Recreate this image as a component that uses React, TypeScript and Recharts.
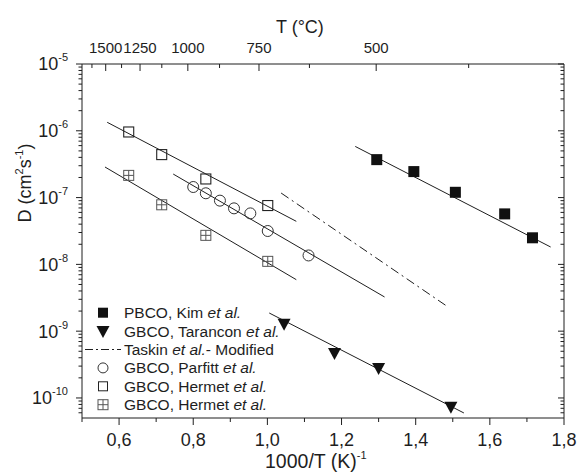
import React from "react";
import { ComposedChart, Scatter, XAxis, YAxis } from "recharts";

const X_TICKS = [0.5, 0.6, 0.7, 0.8, 0.9, 1.0, 1.1, 1.2, 1.3, 1.4, 1.5, 1.6, 1.7, 1.8];
const X_LABELED = [0.6, 0.8, 1.0, 1.2, 1.4, 1.6, 1.8];
const T_MAJOR = [1500, 1250, 1000, 750, 500];
const T_MINOR = [1625, 1375, 1125, 875, 625, 375];
const DECADES = [-11, -10, -9, -8, -7, -6, -5];
const Y_MIN = Math.pow(10, -10.3);
const Y_MAX = 1e-5;

// PBCO, Kim et al.
const kimX = [1.295, 1.395, 1.507, 1.64, 1.715];
const kimD = [3.7e-7, 2.45e-7, 1.2e-7, 5.7e-8, 2.5e-8];
const kimFitX = [1.237, 1.764];
const kimFitD = [5.83e-7, 1.82e-8];

// GBCO, Tarancon et al.
const taranconX = [1.045, 1.181, 1.3, 1.495];
const taranconD = [1.29e-9, 4.7e-10, 2.8e-10, 7.4e-11];
const taranconFitX = [1.005, 1.53];
const taranconFitD = [1.87e-9, 5.96e-11];

// Taskin et al. - Modified
const taskinX = [1.037, 1.489];
const taskinD = [1.17e-7, 2.27e-9];

// GBCO, Parfitt et al.
const parfittX = [0.8, 0.834, 0.872, 0.91, 0.954, 1.001, 1.111];
const parfittD = [1.44e-7, 1.16e-7, 9.0e-8, 6.9e-8, 5.8e-8, 3.16e-8, 1.36e-8];
const parfittFitX = [0.746, 1.316];
const parfittFitD = [2.25e-7, 3.25e-9];

// GBCO, Hermet et al. (open squares)
const hermetX = [0.626, 0.715, 0.834, 1.001];
const hermetD = [9.6e-7, 4.4e-7, 1.9e-7, 7.6e-8];
const hermetFitX = [0.568, 1.078];
const hermetFitD = [1.34e-6, 4.41e-8];

// GBCO, Hermet et al. (crossed squares)
const hermet2X = [0.626, 0.715, 0.834, 1.001];
const hermet2D = [2.15e-7, 7.8e-8, 2.72e-8, 1.11e-8];
const hermet2FitX = [0.562, 1.078];
const hermet2FitD = [2.87e-7, 5.9e-9];

const pts = (xs: number[], ds: number[]) => xs.map((x, i) => ({ x, d: ds[i] }));

const Y_TICKS: number[] = [];
DECADES.forEach((e) => {
  for (let m = 1; m <= 9; m++) {
    const v = m * Math.pow(10, e);
    if (v >= Y_MIN * 0.999 && v <= Y_MAX * 1.001) Y_TICKS.push(v);
  }
});
const T_TICKS = [...T_MAJOR, ...T_MINOR].map((t) => 1000 / (t + 273.15));

const INK = "#1e1e1e";
const FONT = "Arial, 'Liberation Sans', Helvetica, sans-serif";

const isDecade = (v: number) => {
  const l = Math.log10(v);
  return Math.abs(l - Math.round(l)) < 1e-6;
};

const LeftTick = (p: any) => {
  const { x, y, payload } = p;
  const major = isDecade(payload.value);
  const e = Math.round(Math.log10(payload.value));
  return (
    <g>
      <line x1={x} x2={x - (major ? 6 : 3.5)} y1={y} y2={y} stroke={INK} />
      {major && (
        <text x={x - 14} y={y} dy="0.36em" textAnchor="end" fontSize={18} fill={INK} fontFamily={FONT}>
          10
          <tspan dy={-9} fontSize={11}>{e}</tspan>
        </text>
      )}
    </g>
  );
};

const RightTick = (p: any) => {
  const { x, y, payload } = p;
  const major = isDecade(payload.value);
  return <line x1={x} x2={x - (major ? 6 : 3.5)} y1={y} y2={y} stroke={INK} />;
};

const BottomTick = (p: any) => {
  const { x, y, payload } = p;
  const v = payload.value;
  const labeled = X_LABELED.some((t) => Math.abs(t - v) < 1e-6);
  return (
    <g>
      <line x1={x} x2={x} y1={y} y2={y + (labeled ? 7 : 4)} stroke={INK} />
      {labeled && (
        <text x={x} y={y + 21.5} dy="0.36em" textAnchor="middle" fontSize={18} fill={INK} fontFamily={FONT}>
          {v.toFixed(1).replace(".", ",")}
        </text>
      )}
    </g>
  );
};

const TopTick = (p: any) => {
  const { x, y, payload } = p;
  const t = Math.round(1000 / payload.value - 273.15);
  const major = T_MAJOR.includes(t);
  return (
    <g>
      <line x1={x} x2={x} y1={y} y2={y + (major ? 7 : 4)} stroke={INK} />
      {major && (
        <text x={x} y={y - 16} dy="0.36em" textAnchor="middle" fontSize={15} fill={INK} fontFamily={FONT}>
          {t}
        </text>
      )}
    </g>
  );
};

const FilledSquare = ({ cx, cy }: any) => (
  <rect x={cx - 5.5} y={cy - 5.5} width={11} height={11} fill="#111" />
);
const DownTriangle = ({ cx, cy }: any) => (
  <path d={`M${cx - 6.5},${cy - 5} L${cx + 6.5},${cy - 5} L${cx},${cy + 7} Z`} fill="#111" />
);
const OpenCircle = ({ cx, cy }: any) => (
  <circle cx={cx} cy={cy} r={5.5} fill="none" stroke="#333" strokeWidth={1} />
);
const OpenSquare = ({ cx, cy }: any) => (
  <rect x={cx - 5} y={cy - 5} width={10} height={10} fill="none" stroke="#222" strokeWidth={1.1} />
);
const CrossSquare = ({ cx, cy }: any) => (
  <g stroke="#555" strokeWidth={1} fill="none">
    <rect x={cx - 5} y={cy - 5} width={10} height={10} />
    <line x1={cx - 5} x2={cx + 5} y1={cy} y2={cy} />
    <line x1={cx} x2={cx} y1={cy - 5} y2={cy + 5} />
  </g>
);
const NoMark = () => <g />;

const fitLine = { stroke: INK, strokeWidth: 1 };

const LEGEND = [
  { name: "PBCO, Kim ", it: "et al.", rest: "", mark: "fsq" },
  { name: "GBCO, Tarancon ", it: "et al.", rest: "", mark: "tri" },
  { name: "Taskin ", it: "et al.", rest: "- Modified", mark: "dash" },
  { name: "GBCO, Parfitt ", it: "et al.", rest: "", mark: "circ" },
  { name: "GBCO, Hermet ", it: "et al.", rest: "", mark: "osq" },
  { name: "GBCO, Hermet ", it: "et al.", rest: "", mark: "xsq" },
];

const LegendMark = ({ kind, cx, cy }: { kind: string; cx: number; cy: number }) => {
  if (kind === "fsq") return <rect x={cx - 5} y={cy - 5} width={10} height={10} fill="#111" />;
  if (kind === "tri") return <DownTriangle cx={cx} cy={cy} />;
  if (kind === "circ") return <circle cx={cx} cy={cy} r={5} fill="none" stroke="#333" />;
  if (kind === "osq") return <rect x={cx - 4.5} y={cy - 4.5} width={9} height={9} fill="none" stroke="#222" />;
  if (kind === "xsq") return <CrossSquare cx={cx} cy={cy} />;
  return <line x1={85} x2={121} y1={cy} y2={cy} stroke={INK} strokeDasharray="8 3 2 3" />;
};

export default function App() {
  return (
    <div style={{ position: "absolute", left: 0, top: 0, width: 579, height: 475, background: "#fff" }}>
      <ComposedChart width={579} height={475} margin={{ top: 0, right: 0, bottom: 0, left: 0 }}>
        <XAxis
          xAxisId="b"
          type="number"
          dataKey="x"
          domain={[0.5, 1.8]}
          ticks={X_TICKS}
          interval={0}
          height={57}
          tickSize={0}
          tickMargin={0}
          tick={<BottomTick />}
          stroke={INK}
          allowDataOverflow
        />
        <XAxis
          xAxisId="t"
          orientation="top"
          type="number"
          dataKey="x"
          domain={[0.5, 1.8]}
          ticks={T_TICKS}
          interval={0}
          height={64}
          tickSize={0}
          tickMargin={0}
          tick={<TopTick />}
          stroke={INK}
          allowDataOverflow
        />
        <YAxis
          yAxisId="l"
          type="number"
          dataKey="d"
          scale="log"
          domain={[Y_MIN, Y_MAX]}
          ticks={Y_TICKS}
          interval={0}
          width={82}
          tickSize={0}
          tickMargin={0}
          tick={<LeftTick />}
          stroke={INK}
          allowDataOverflow
        />
        <YAxis
          yAxisId="r"
          orientation="right"
          type="number"
          dataKey="d"
          scale="log"
          domain={[Y_MIN, Y_MAX]}
          ticks={Y_TICKS}
          interval={0}
          width={15}
          tickSize={0}
          tickMargin={0}
          tick={<RightTick />}
          stroke={INK}
          allowDataOverflow
        />

        <Scatter xAxisId="b" yAxisId="l" data={pts(kimFitX, kimFitD)} line={fitLine} shape={NoMark} isAnimationActive={false} />
        <Scatter xAxisId="b" yAxisId="l" data={pts(taranconFitX, taranconFitD)} line={fitLine} shape={NoMark} isAnimationActive={false} />
        <Scatter
          xAxisId="b"
          yAxisId="l"
          data={pts(taskinX, taskinD)}
          line={{ stroke: INK, strokeWidth: 1, strokeDasharray: "9 4 2 4" }}
          shape={NoMark}
          isAnimationActive={false}
        />
        <Scatter xAxisId="b" yAxisId="l" data={pts(parfittFitX, parfittFitD)} line={fitLine} shape={NoMark} isAnimationActive={false} />
        <Scatter xAxisId="b" yAxisId="l" data={pts(hermetFitX, hermetFitD)} line={fitLine} shape={NoMark} isAnimationActive={false} />
        <Scatter xAxisId="b" yAxisId="l" data={pts(hermet2FitX, hermet2FitD)} line={fitLine} shape={NoMark} isAnimationActive={false} />

        <Scatter xAxisId="b" yAxisId="l" data={pts(kimX, kimD)} shape={FilledSquare} isAnimationActive={false} />
        <Scatter xAxisId="b" yAxisId="l" data={pts(taranconX, taranconD)} shape={DownTriangle} isAnimationActive={false} />
        <Scatter xAxisId="b" yAxisId="l" data={pts(parfittX, parfittD)} shape={OpenCircle} isAnimationActive={false} />
        <Scatter xAxisId="b" yAxisId="l" data={pts(hermetX, hermetD)} shape={OpenSquare} isAnimationActive={false} />
        <Scatter xAxisId="b" yAxisId="l" data={pts(hermet2X, hermet2D)} shape={CrossSquare} isAnimationActive={false} />
      </ComposedChart>

      <svg
        width={579}
        height={475}
        style={{ position: "absolute", left: 0, top: 0, pointerEvents: "none" }}
        fontFamily={FONT}
        fill={INK}
      >
        <text x={276} y={27} dy="0.36em" fontSize={18}>T (°C)</text>
        <text x={265} y={461} dy="0.36em" fontSize={19.5}>
          1000/T (K)<tspan dy={-9} fontSize={11}>-1</tspan>
        </text>
        <text x={25} y={183} dy="0.36em" fontSize={18} textAnchor="middle" transform="rotate(-90 25 183)">
          D (cm<tspan dy={-8} fontSize={11}>2</tspan>
          <tspan dy={8}>s</tspan>
          <tspan dy={-8} fontSize={11}>-1</tspan>
          <tspan dy={8}>)</tspan>
        </text>
        {LEGEND.map((item, i) => {
          const cy = 312.7 + i * 18.4;
          return (
            <g key={i}>
              <LegendMark kind={item.mark} cx={103} cy={cy} />
              <text x={124} y={cy} dy="0.36em" fontSize={15.5}>
                {item.name}
                <tspan fontStyle="italic">{item.it}</tspan>
                {item.rest}
              </text>
            </g>
          );
        })}
      </svg>
    </div>
  );
}
